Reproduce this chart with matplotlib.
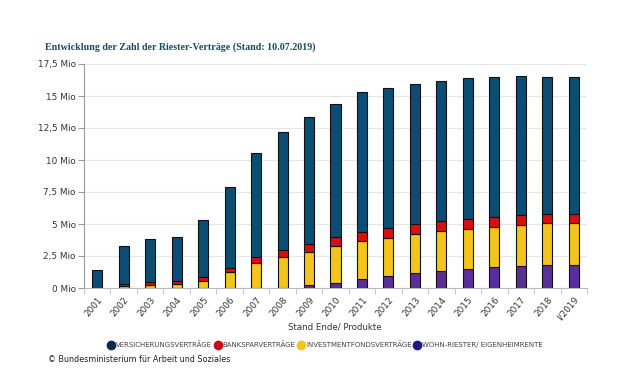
import numpy as np
import matplotlib.pyplot as plt

years = ['2001', '2002', '2003', '2004', '2005', '2006', '2007', '2008', '2009', '2010',
         '2011', '2012', '2013', '2014', '2015', '2016', '2017', '2018', 'I/2019']
# Mio Verträge
wohn = [0, 0, 0, 0, 0, 0, 0, 0.02, 0.2, 0.4, 0.68, 0.93, 1.14, 1.32, 1.5, 1.63, 1.71, 1.76, 1.77]
invest = [0, 0.17, 0.24, 0.32, 0.57, 1.23, 1.92, 2.39, 2.63, 2.88, 2.97, 2.96, 3.07, 3.12, 3.13, 3.17, 3.23, 3.3, 3.3]
bank = [0, 0.15, 0.2, 0.21, 0.26, 0.35, 0.5, 0.56, 0.64, 0.7, 0.75, 0.79, 0.81, 0.81, 0.79, 0.75, 0.73, 0.7, 0.7]
vers = [1.38, 2.98, 3.41, 3.47, 4.5, 6.3, 8.13, 9.25, 9.88, 10.42, 10.95, 10.97, 10.88, 10.95, 10.98, 10.95, 10.86, 10.74, 10.73]

series = [
    ('VERSICHERUNGSVERTRÄGE', vers, '#0c4d74', '#0d2a44'),
    ('BANKSPARVERTRÄGE', bank, '#d90f0f', '#c8101a'),
    ('INVESTMENTFONDSVERTRÄGE', invest, '#f2c41c', '#f2c41c'),
    ('WOHN-RIESTER/ EIGENHEIMRENTE', wohn, '#5a2f9c', '#1c1a80'),
]
stack_order = [3, 2, 1, 0]

fig = plt.figure(figsize=(6.21, 3.83), dpi=100)
ax = fig.add_axes([84 / 621, 1 - 288 / 383, 503 / 621, 224 / 383])

x = np.arange(len(years))
bottom = np.zeros(len(years))
for i in stack_order:
    name, vals, col, _ = series[i]
    ax.bar(x, vals, 0.38, bottom=bottom, color=col, edgecolor='#111111', linewidth=0.8, zorder=3)
    bottom += np.array(vals)

ax.set_xlim(-0.5, len(years) - 0.5)
ax.set_ylim(0, 17.5)
yt = [0, 2.5, 5, 7.5, 10, 12.5, 15, 17.5]
ax.set_yticks(yt)
ax.set_yticklabels([('%g' % v).replace('.', ',') + ' Mio' for v in yt], fontsize=6.4, color='#333333')
ax.set_xticks(x)
ax.set_xticklabels(years, rotation=50, ha='right', rotation_mode='anchor', fontsize=6.4, color='#333333')
ax.tick_params(axis='x', length=0, pad=5)
ax.set_xticks(np.arange(-0.5, len(years)), minor=True)
ax.tick_params(axis='x', which='minor', length=4, color='#bbbbbb')
ax.tick_params(axis='y', length=4, color='#999999', pad=2)
ax.grid(axis='y', color='#e6e6e6', linewidth=0.8, zorder=0)
for s in ['top', 'right']:
    ax.spines[s].set_visible(False)
ax.spines['left'].set_color('#999999')
ax.spines['bottom'].set_color('#bbbbbb')

fig.text(45 / 621, 1 - 47 / 383, 'Entwicklung der Zahl der Riester-Verträge (Stand: 10.07.2019)',
         family='Liberation Serif', fontweight='bold', fontsize=7.2, color='#1b4a5e', va='center')
fig.text(335 / 621, 1 - 327 / 383, 'Stand Ende/ Produkte', fontsize=6.2, color='#333333', ha='center', va='center')

handles = [plt.Line2D([], [], marker='o', ls='', color=s[3], markersize=6) for s in series]
fig.legend(handles, [s[0] for s in series], loc='center', bbox_to_anchor=(325 / 621, 1 - 345 / 383),
           ncol=4, frameon=False, fontsize=5, handletextpad=0.1, columnspacing=0.2,
           handlelength=1.2, labelcolor='#444444')
fig.text(48 / 621, 1 - 360 / 383, '© Bundesministerium für Arbeit und Soziales', fontsize=5.8,
         color='#222222', va='center')

fig.savefig('out.png', dpi=100)
